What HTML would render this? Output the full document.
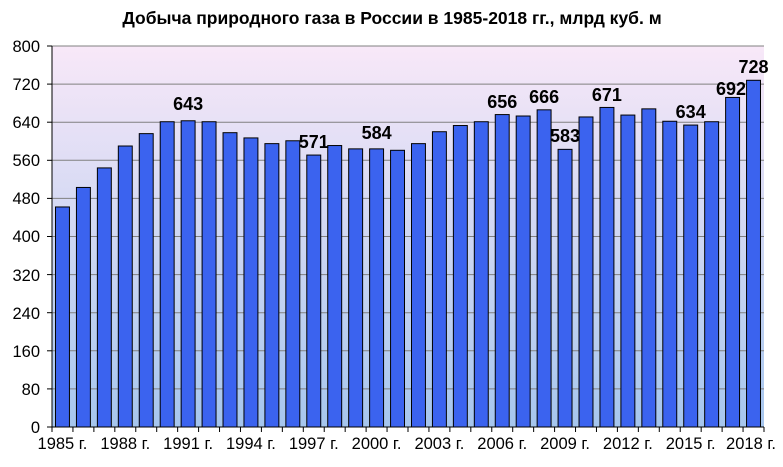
<!DOCTYPE html><html><head><meta charset="utf-8"><style>body{margin:0;background:#fff}svg{display:block}text{font-family:"Liberation Sans",Arial,sans-serif}</style></head><body>
<svg width="783" height="467" xmlns="http://www.w3.org/2000/svg">
<defs><linearGradient id="g" x1="0" y1="0" x2="0" y2="1"><stop offset="0" stop-color="#f8e8f8"/><stop offset="1" stop-color="#a6c6ee"/></linearGradient></defs>
<text x="392" y="24" text-anchor="middle" font-size="17.5" font-weight="bold">Добыча природного газа в России в 1985-2018 гг., млрд куб. м</text>
<rect x="52" y="46" width="712" height="381" fill="url(#g)"/>
<g stroke="#808080" stroke-width="1">
<line x1="52" x2="764" y1="46" y2="46"/><line x1="52" x2="764" y1="84.1" y2="84.1"/><line x1="52" x2="764" y1="122.2" y2="122.2"/><line x1="52" x2="764" y1="160.3" y2="160.3"/><line x1="52" x2="764" y1="198.4" y2="198.4"/><line x1="52" x2="764" y1="236.5" y2="236.5"/><line x1="52" x2="764" y1="274.6" y2="274.6"/><line x1="52" x2="764" y1="312.7" y2="312.7"/><line x1="52" x2="764" y1="350.8" y2="350.8"/><line x1="52" x2="764" y1="388.9" y2="388.9"/>
</g>
<g stroke="#000" stroke-width="1">
<line x1="47" x2="52" y1="46" y2="46"/><line x1="47" x2="52" y1="84.1" y2="84.1"/><line x1="47" x2="52" y1="122.2" y2="122.2"/><line x1="47" x2="52" y1="160.3" y2="160.3"/><line x1="47" x2="52" y1="198.4" y2="198.4"/><line x1="47" x2="52" y1="236.5" y2="236.5"/><line x1="47" x2="52" y1="274.6" y2="274.6"/><line x1="47" x2="52" y1="312.7" y2="312.7"/><line x1="47" x2="52" y1="350.8" y2="350.8"/><line x1="47" x2="52" y1="388.9" y2="388.9"/><line x1="47" x2="52" y1="427" y2="427"/>
</g>
<g font-size="16.5" text-anchor="end">
<text x="40" y="52">800</text><text x="40" y="90">720</text><text x="40" y="128">640</text><text x="40" y="166">560</text><text x="40" y="204">480</text><text x="40" y="242">400</text><text x="40" y="281">320</text><text x="40" y="319">240</text><text x="40" y="357">160</text><text x="40" y="395">80</text><text x="40" y="433">0</text>
</g>
<g fill="#3b63ef" stroke="#000" stroke-width="1">
<rect x="55.5" y="206.97" width="13.94" height="220.03"/>
<rect x="76.44" y="187.45" width="13.94" height="239.55"/>
<rect x="97.38" y="167.92" width="13.94" height="259.08"/>
<rect x="118.32" y="146.01" width="13.94" height="280.99"/>
<rect x="139.26" y="133.63" width="13.94" height="293.37"/>
<rect x="160.21" y="121.72" width="13.94" height="305.28"/>
<rect x="181.15" y="120.77" width="13.94" height="306.23"/>
<rect x="202.09" y="121.72" width="13.94" height="305.28"/>
<rect x="223.03" y="132.68" width="13.94" height="294.32"/>
<rect x="243.97" y="137.92" width="13.94" height="289.08"/>
<rect x="264.91" y="143.63" width="13.94" height="283.37"/>
<rect x="285.85" y="140.77" width="13.94" height="286.23"/>
<rect x="306.79" y="155.06" width="13.94" height="271.94"/>
<rect x="327.73" y="145.54" width="13.94" height="281.46"/>
<rect x="348.67" y="148.87" width="13.94" height="278.13"/>
<rect x="369.62" y="148.87" width="13.94" height="278.13"/>
<rect x="390.56" y="150.30" width="13.94" height="276.70"/>
<rect x="411.50" y="143.63" width="13.94" height="283.37"/>
<rect x="432.44" y="131.72" width="13.94" height="295.28"/>
<rect x="453.38" y="125.53" width="13.94" height="301.47"/>
<rect x="474.32" y="121.72" width="13.94" height="305.28"/>
<rect x="495.26" y="114.58" width="13.94" height="312.42"/>
<rect x="516.20" y="116.01" width="13.94" height="310.99"/>
<rect x="537.14" y="109.82" width="13.94" height="317.18"/>
<rect x="558.08" y="149.35" width="13.94" height="277.65"/>
<rect x="579.03" y="116.96" width="13.94" height="310.04"/>
<rect x="599.97" y="107.44" width="13.94" height="319.56"/>
<rect x="620.91" y="115.06" width="13.94" height="311.94"/>
<rect x="641.85" y="108.86" width="13.94" height="318.14"/>
<rect x="662.79" y="121.25" width="13.94" height="305.75"/>
<rect x="683.73" y="125.06" width="13.94" height="301.94"/>
<rect x="704.67" y="121.72" width="13.94" height="305.28"/>
<rect x="725.61" y="97.43" width="13.94" height="329.57"/>
<rect x="746.55" y="80.29" width="13.94" height="346.71"/>
</g>
<g font-size="18" font-weight="bold" text-anchor="middle">
<text x="188.12" y="110">643</text>
<text x="313.76" y="148">571</text>
<text x="376.59" y="139">584</text>
<text x="502.23" y="108">656</text>
<text x="544.11" y="103">666</text>
<text x="565.05" y="142">583</text>
<text x="606.94" y="101">671</text>
<text x="690.70" y="118">634</text>
<text x="731" y="95">692</text>
<text x="753.52" y="73">728</text>
</g>
<line x1="52" x2="52" y1="46" y2="427" stroke="#000"/>
<line x1="52" x2="764" y1="427" y2="427" stroke="#000"/>
<line x1="51.5" x2="765" y1="429.5" y2="429.5" stroke="#000" stroke-width="5" stroke-dasharray="1 19.941"/>
<g font-size="16.5" text-anchor="middle">
<text x="62.47" y="449">1985 г.</text><text x="125.29" y="449">1988 г.</text><text x="188.12" y="449">1991 г.</text><text x="250.94" y="449">1994 г.</text><text x="313.76" y="449">1997 г.</text><text x="376.59" y="449">2000 г.</text><text x="439.41" y="449">2003 г.</text><text x="502.23" y="449">2006 г.</text><text x="565.05" y="449">2009 г.</text><text x="627.88" y="449">2012 г.</text><text x="690.70" y="449">2015 г.</text><text x="751" y="449">2018 г.</text>
</g>
</svg></body></html>
